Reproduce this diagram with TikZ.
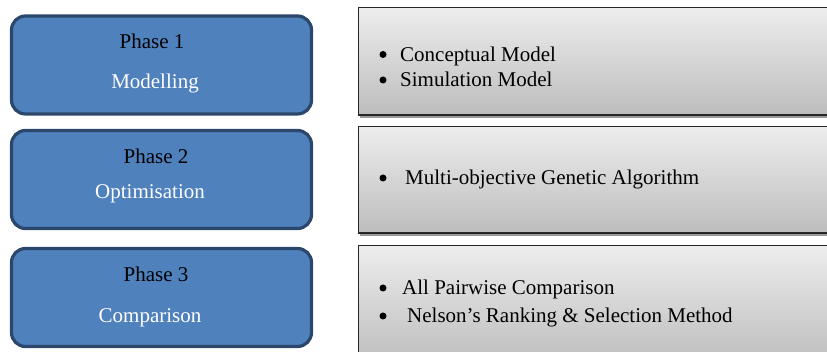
\documentclass[tikz,border=0pt]{standalone}
\usepackage{fontspec}
\setmainfont{Liberation Serif}
\usetikzlibrary{shadows}
\definecolor{phaseblue}{HTML}{4F81BD}
\definecolor{phaseline}{HTML}{2C476C}
\tikzset{
  phasebox/.style={draw=phaseline, line width=3.2pt, fill=phaseblue, rounded corners=14pt,
                   minimum width=300pt, minimum height=98pt},
  detailbox/.style={draw=black!85, line width=1.5pt, top color=black!7, bottom color=black!26,
                    minimum width=490pt, minimum height=#1, anchor=west,
                    drop shadow={shadow xshift=1pt, shadow yshift=-3pt, fill=black!40, opacity=1}},
  itemtext/.style={anchor=base west, inner sep=0pt, font=\fontsize{21}{25}\selectfont},
  phasetext/.style={anchor=base, inner sep=0pt, font=\fontsize{21}{25}\selectfont}
}
\begin{document}
\begin{tikzpicture}[x=1pt,y=1pt]
  \useasboundingbox (0,0) rectangle (827,352);
  \clip (0,0) rectangle (827,352);
  % phases on the left
  \foreach \i/\y in {1/287, 2/172.5, 3/54.5}{
    \node[phasebox] (P\i) at (161.5,\y) {};
  }
  \foreach \i/\x/\y/\t in {1/152/303/Phase 1, 2/156/188/Phase 2, 3/156/70/Phase 3}{
    \node[phasetext] (T\i) at (\x,\y) {\t};
  }
  \foreach \i/\x/\y/\t in {1/155/263/Modelling, 2/150/153/Optimisation, 3/150/29/Comparison}{
    \node[phasetext, text=white] (S\i) at (\x,\y) {\t};
  }
  % detail boxes on the right
  \node[detailbox=107.5pt] (G1) at (357.75,290.5) {};
  \node[detailbox=106.5pt] (G2) at (357.75,172) {};
  \node[detailbox=118.5pt] (G3) at (357.75,47) {};
  \foreach \n/\x/\y/\t in {a/400/290.5/Conceptual Model, b/400/265/Simulation Model,
                           c/405/167/Multi-objective Genetic Algorithm,
                           d/402/57/All Pairwise Comparison,
                           e/407/29/Nelson's Ranking \& Selection Method}{
    \node[itemtext] (I\n) at (\x,\y) {\t};
    \fill (383,\y+7) circle (3.5pt);
  }
\end{tikzpicture}
\end{document}
